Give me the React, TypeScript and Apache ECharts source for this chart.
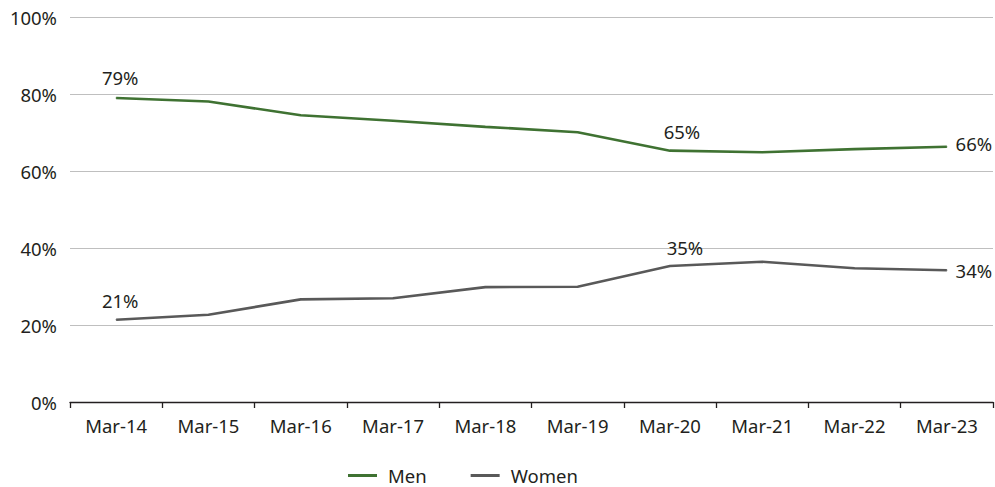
import React, { useEffect, useRef } from "react";
import * as echarts from "echarts";

const categories = ["Mar-14", "Mar-15", "Mar-16", "Mar-17", "Mar-18", "Mar-19", "Mar-20", "Mar-21", "Mar-22", "Mar-23"];
const menValues = [79.1, 78.2, 74.6, 73.2, 71.6, 70.2, 65.4, 65.0, 65.8, 66.4];
const womenValues = [21.4, 22.7, 26.7, 27.0, 29.9, 30.0, 35.4, 36.5, 34.8, 34.3];
const yTicks = { min: 0, max: 100, interval: 20 };

// indices of points that carry a value label, with their label offsets
const menLabelled: Record<number, [number, number]> = { 0: [4, -21], 6: [12, -19], 9: [27, -3] };
const womenLabelled: Record<number, [number, number]> = { 0: [4, -19], 6: [15, -18], 9: [27, 0] };

const GREEN = "#3f7232";
const GREY = "#595959";
const TEXT = "#231f20";
const FONT = "Noto Sans";
const FS = 18.5;

function withLabels(values: number[], labelled: Record<number, [number, number]>) {
  return values.map((v, i) =>
    labelled[i]
      ? {
          value: v,
          label: {
            show: true,
            position: "inside",
            offset: labelled[i],
            align: "center",
            verticalAlign: "middle",
            color: TEXT,
            fontSize: FS,
            fontFamily: FONT,
            formatter: (p: any) => Math.round(p.value) + "%",
          },
        }
      : v
  );
}

export default function App() {
  const ref = useRef<HTMLDivElement>(null);

  useEffect(() => {
    if (!ref.current) return;
    const chart = echarts.init(ref.current, undefined, { renderer: "svg" });
    chart.setOption({
      animation: false,
      backgroundColor: "#ffffff",
      grid: { left: 70, right: 2, top: 17.7, bottom: 85, containLabel: false },
      legend: {
        left: 348,
        top: 466,
        padding: 0,
        itemGap: 44,
        itemWidth: 29,
        itemHeight: 3,
        icon: "rect",
        textStyle: { color: TEXT, fontSize: FS, fontFamily: FONT, padding: [0, 0, 0, 6] },
        data: [
          { name: "Men", itemStyle: { color: GREEN } },
          { name: "Women", itemStyle: { color: GREY } },
        ],
      },
      xAxis: {
        type: "category",
        data: categories,
        boundaryGap: true,
        axisLine: { lineStyle: { color: TEXT, width: 1.3 } },
        axisTick: { show: true, length: 6, interval: 0, lineStyle: { color: TEXT, width: 1.3 } },
        axisLabel: { color: TEXT, fontSize: FS, fontFamily: FONT, margin: 14, interval: 0 },
        splitLine: { show: false },
      },
      yAxis: {
        type: "value",
        min: yTicks.min,
        max: yTicks.max,
        interval: yTicks.interval,
        axisLine: { show: false },
        axisTick: { show: false },
        axisLabel: { color: TEXT, fontSize: FS, fontFamily: FONT, margin: 13, formatter: "{value}%" },
        splitLine: { lineStyle: { color: "#bfbfbf", width: 1.2 } },
      },
      series: [
        {
          name: "Men",
          type: "line",
          data: withLabels(menValues, menLabelled),
          symbol: "circle",
          symbolSize: 1,
          itemStyle: { color: GREEN },
          lineStyle: { color: GREEN, width: 2.6 },
        },
        {
          name: "Women",
          type: "line",
          data: withLabels(womenValues, womenLabelled),
          symbol: "circle",
          symbolSize: 1,
          itemStyle: { color: GREY },
          lineStyle: { color: GREY, width: 2.6 },
        },
      ],
    });
    return () => chart.dispose();
  }, []);

  return (
    <div
      ref={ref}
      style={{ position: "fixed", left: 0, top: 0, width: 995, height: 487, background: "#fff" }}
    />
  );
}
